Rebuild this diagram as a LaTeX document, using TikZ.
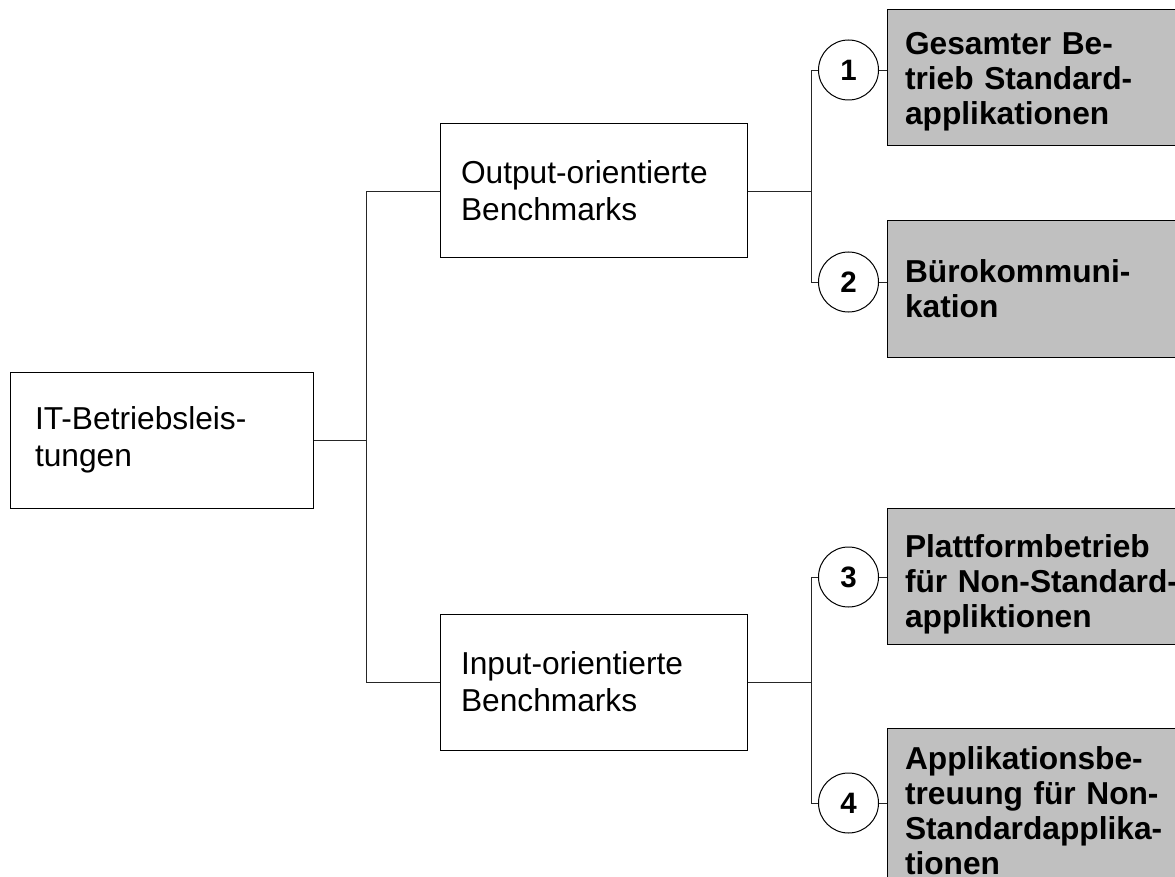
\documentclass[tikz,border=0pt]{standalone}
\usepackage{fontspec}
\setmainfont{Liberation Sans}
\usepackage{tikz}
\usetikzlibrary{shapes,arrows,positioning,calc}
\definecolor{boxgray}{RGB}{192,192,192}
\tikzset{
  plainbox/.style={draw=black,line width=1pt,fill=white,align=left,inner xsep=#1,inner ysep=0pt,
    font=\fontsize{31.7}{37}\selectfont},
  greybox/.style={draw=black,line width=1pt,fill=boxgray,align=left,inner xsep=18pt,inner ysep=0pt,
    minimum width=318pt,text width=282pt,minimum height=136pt,font=\bfseries\fontsize{31.7}{35}\selectfont},
  numcircle/.style={circle,draw=black,line width=1pt,fill=white,minimum size=60pt,inner sep=0pt,
    font=\bfseries\fontsize{29.5}{32}\selectfont},
  branch/.style={line width=0.9pt,draw=black!85}
}
\begin{document}
\begin{tikzpicture}[x=1pt,y=-1pt]
\useasboundingbox (0,0) rectangle (1175,877);
\clip (0,0) rectangle (1175,877);
% left column
\node[plainbox=25pt,minimum width=303pt,text width=253pt,minimum height=136pt] (root) at (161.5,440) {IT-Betriebsleis-\\tungen};
\node[plainbox=21pt,minimum width=307pt,text width=265pt,minimum height=134pt] (out) at (593.5,191) {Output-orientierte\\Benchmarks};
\node[plainbox=21pt,minimum width=307pt,text width=265pt,minimum height=136pt] (inp) at (593.5,682) {Input-orientierte\\Benchmarks};
% right column
\node[greybox] (b1) at (1046,78) {\rule{0pt}{29.5pt}Gesamter Be-\\trieb Standard-\\applikationen};
\node[greybox] (b2) at (1046,289) {Bürokommuni-\\kation};
\node[greybox] (b3) at (1046,576) {\rule{0pt}{39pt}Plattformbetrieb\\für Non-Standard-\\appliktionen};
\node[greybox,anchor=north,minimum height=160pt] (b4) at (1046,728) {\rule{0pt}{27pt}Applikationsbe-\\treuung für Non-\\Standardapplika-\\tionen\\[10pt]};
\node[numcircle] (c1) at (848.5,70) {1};
\node[numcircle] (c2) at (848.5,282) {2};
\node[numcircle] (c3) at (848.5,577) {3};
\node[numcircle] (c4) at (848.5,803) {4};
% connectors
\draw[branch] (root.east) -- ++(53,0) coordinate (j0);
\draw[branch] (out.west) -| (j0) |- (inp.west);
\draw[branch] (out.east) -- ++(64,0) coordinate (j1);
\draw[branch] (c1.west) -| (j1) |- (c2.west);
\draw[branch] (inp.east) -- ++(64,0) coordinate (j2);
\draw[branch] (c3.west) -| (j2) |- (c4.west);
\foreach \i in {1,...,4}
  \draw[branch] (c\i.east) -- (c\i.east -| b\i.west);
\end{tikzpicture}
\end{document}
